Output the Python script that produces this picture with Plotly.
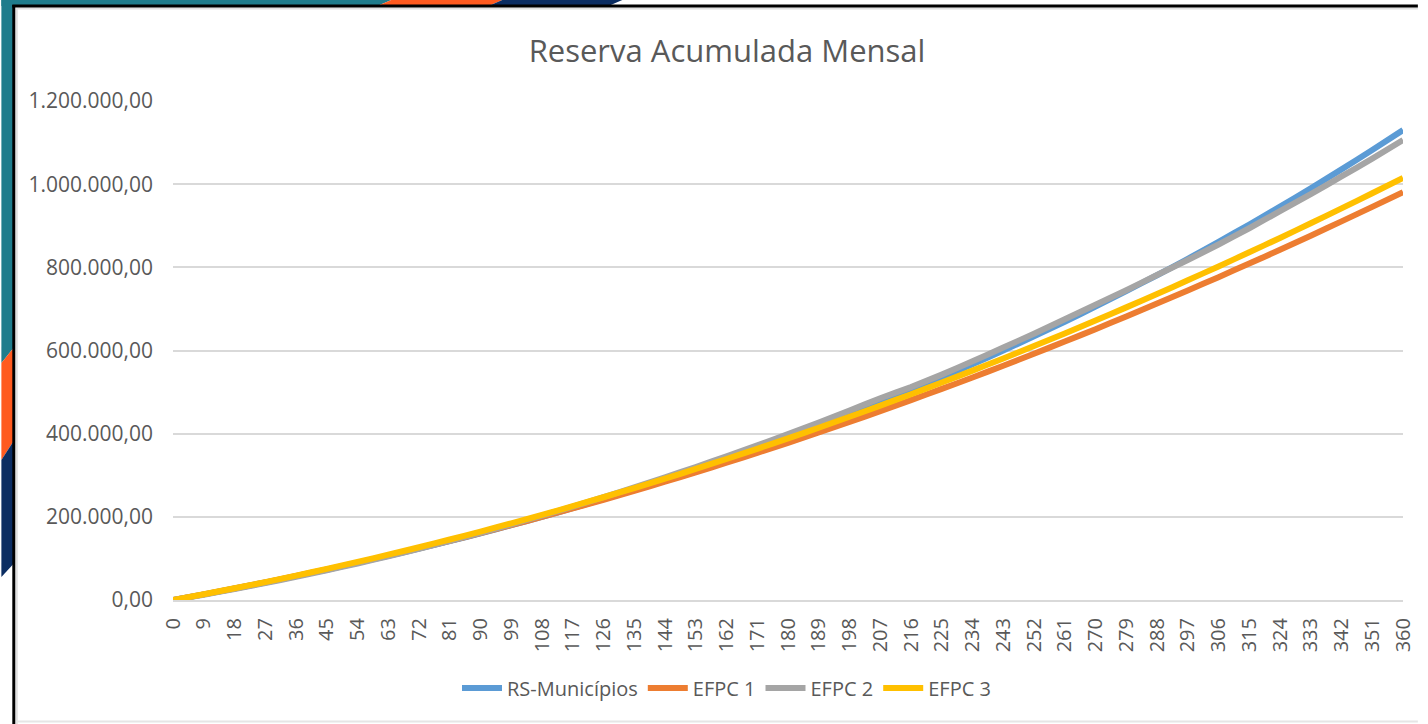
import plotly.graph_objects as go

# ---- data (values in thousands of R$ at every 9th month) ----
months = list(range(0, 361, 9))

rs_municipios = [0, 13.5, 27.6, 42.2, 57.3, 72.9, 89.2, 106.0, 123.5, 141.6, 160.4,
                 179.9, 200.0, 220.9, 242.5, 264.9, 288.0, 312.0, 336.8, 362.4, 388.9,
                 416.2, 444.5, 473.7, 503.8, 534.9, 566.9, 600.0, 634.1, 669.2, 705.4,
                 742.7, 781.0, 820.5, 861.2, 902.9, 945.9, 990.1, 1035.5, 1082.1, 1130.0]
efpc1 = [0, 13.6, 27.7, 42.4, 57.6, 73.4, 89.8, 106.7, 124.2, 142.2, 160.9,
         180.0, 199.8, 220.1, 241.0, 262.4, 284.4, 306.9, 330.1, 353.7, 378.0,
         402.8, 428.2, 454.1, 480.6, 507.6, 535.2, 563.4, 592.2, 621.5, 651.3,
         681.8, 712.8, 744.3, 776.4, 809.1, 842.3, 876.2, 910.5, 945.4, 980.9]
efpc2 = [0, 12.8, 26.3, 40.6, 55.6, 71.4, 87.9, 105.2, 123.3, 142.1, 161.6,
         181.9, 203.0, 224.8, 247.4, 270.8, 294.9, 319.8, 345.4, 371.8, 399.0,
         427.0, 455.7, 485.2, 512.0, 542.0, 574.0, 607.0, 640.5, 675.0, 710.0,
         745.0, 781.5, 817.5, 855.0, 894.0, 935.0, 976.0, 1018.5, 1061.5, 1106.0]
efpc3 = [0, 13.8, 28.2, 43.1, 58.7, 74.9, 91.6, 109.0, 126.9, 145.5, 164.6,
         184.4, 204.7, 225.6, 247.1, 269.2, 291.9, 315.2, 339.1, 363.6, 388.7,
         414.3, 440.6, 467.5, 494.9, 523.0, 551.6, 580.9, 610.7, 641.1, 672.1,
         703.7, 736.0, 768.8, 802.2, 836.1, 870.7, 905.9, 941.7, 978.1, 1015.0]

series_names = ["RS-Municípios", "EFPC 1", "EFPC 2", "EFPC 3"]
series_values = [rs_municipios, efpc1, efpc2, efpc3]
series_colors = ["#5B9BD5", "#ED7D31", "#A5A5A5", "#FFC000"]

y_tick_vals = [0, 200000, 400000, 600000, 800000, 1000000, 1200000]
y_tick_text = ["0,00", "200.000,00", "400.000,00", "600.000,00",
               "800.000,00", "1.000.000,00", "1.200.000,00"]
x_tick_vals = months
x_tick_text = [str(m) for m in months]

title_text = "Reserva Acumulada Mensal"

# ---- figure ----
W, H = 1428, 724
L, R, T, B = 173, 1413, 101, 600


def px(x):
    return (x - L) / (R - L)


def py(y):
    return (B - y) / (B - T)


fig = go.Figure()
for name, vals, col in zip(series_names, series_values, series_colors):
    fig.add_trace(go.Scatter(
        x=months, y=[v * 1000 for v in vals], name=name, mode="lines",
        line=dict(color=col, width=6, shape="spline", smoothing=0.3),
    ))

teal = "#1f7c8c"
orange = "#FF5A1F"
navy = "#0B2D62"


def poly(points, color):
    d = "M " + " L ".join(f"{px(a):.5f},{py(b):.5f}" for a, b in points) + " Z"
    return dict(type="path", xref="paper", yref="paper", path=d,
                fillcolor=color, line=dict(width=0), layer="below")


shapes = [
    # left strip
    poly([(0, 0), (13, 0), (13, 347), (0, 363)], teal),
    poly([(0, 363), (13, 347), (13, 440), (0, 460)], orange),
    poly([(0, 460), (13, 440), (13, 563), (0, 577)], navy),
    # top strip
    poly([(0, 0), (393, 0), (379, 6), (0, 6)], teal),
    poly([(393, 0), (505, 0), (491, 6), (379, 6)], orange),
    poly([(505, 0), (626, 0), (612, 6), (491, 6)], navy),
    # light inner shadow
    dict(type="line", xref="paper", yref="paper", x0=px(15), x1=px(W), y0=py(8.5), y1=py(8.5),
         line=dict(color="#E0E0E0", width=2)),
    dict(type="line", xref="paper", yref="paper", x0=px(15.5), x1=px(15.5), y0=py(8), y1=py(H),
         line=dict(color="#E0E0E0", width=2)),
    dict(type="line", xref="paper", yref="paper", x0=px(15), x1=px(W), y0=py(721.5), y1=py(721.5),
         line=dict(color="#E6E6E6", width=2)),
    # black frame
    dict(type="line", xref="paper", yref="paper", x0=px(11), x1=px(W), y0=py(6), y1=py(6),
         line=dict(color="#000000", width=3)),
    dict(type="line", xref="paper", yref="paper", x0=px(12.5), x1=px(12.5), y0=py(5), y1=py(H),
         line=dict(color="#000000", width=3)),
]

font_family = "Open Sans, Noto Sans, sans-serif"

fig.update_layout(
    width=W, height=H,
    margin=dict(l=L, r=W - R, t=T, b=H - B, pad=0),
    paper_bgcolor="white", plot_bgcolor="white",
    title=dict(text=title_text, x=727 / W, xref="container", xanchor="center",
               y=1 - 51 / H, yref="container", yanchor="middle",
               font=dict(family=font_family, size=31, color="#595959")),
    showlegend=True,
    legend=dict(orientation="h", x=px(731), xanchor="center", y=py(688), yanchor="middle",
                font=dict(family=font_family, size=20, color="#595959"),
                itemwidth=40, tracegroupgap=0, bgcolor="rgba(0,0,0,0)"),
    shapes=shapes,
    font=dict(family=font_family, color="#595959"),
)

fig.update_xaxes(
    range=[0, 360], tickmode="array", tickvals=x_tick_vals, ticktext=x_tick_text,
    tickangle=-90, tickfont=dict(family=font_family, size=20, color="#595959"),
    showgrid=False, zeroline=False, showline=True, linecolor="#D9D9D9", linewidth=2,
    ticks="", ticklabelstandoff=8, fixedrange=True,
)
fig.update_yaxes(
    range=[0, 1200000], tickmode="array", tickvals=y_tick_vals, ticktext=y_tick_text,
    tickfont=dict(family=font_family, size=21, color="#595959"),
    showgrid=True, gridcolor="#D9D9D9", gridwidth=2, zeroline=False, showline=False,
    ticks="", ticklabelstandoff=19, fixedrange=True,
)

fig.write_html(
    "out.html",
    config={"displayModeBar": False},
    post_script="document.body.style.margin='0';document.body.style.overflow='hidden';",
)
